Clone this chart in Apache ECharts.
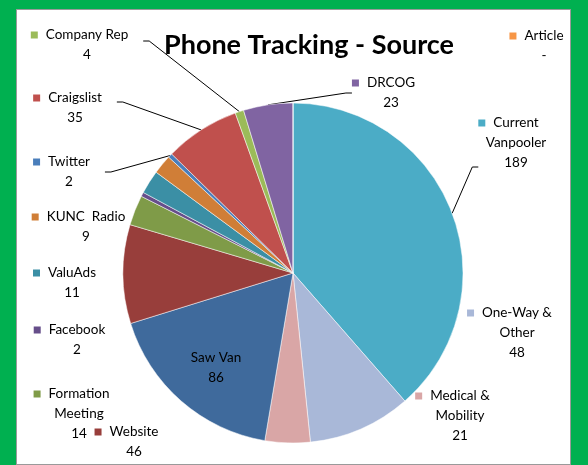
<!DOCTYPE html>
<html>
<head>
<meta charset="utf-8">
<style>
  html, body { margin: 0; padding: 0; }
  body { width: 588px; height: 465px; background: #00b050; position: relative; overflow: hidden; }
  .frame { position: absolute; left: 16px; top: 9px; width: 553px; height: 454px; background: #fff; border: 1px solid #9a9a9a; }
  #chart { position: absolute; left: 0; top: 0; width: 588px; height: 465px; }
</style>
<script src="https://cdn.jsdelivr.net/npm/echarts@6/dist/echarts.min.js"></script>
</head>
<body>
<div class="frame"></div>
<div id="chart"></div>
<script>
// slices, clockwise from 12 o'clock
var categories = ["Current Vanpooler", "One-Way & Other", "Medical & Mobility", "Saw Van", "Website",
  "Formation Meeting", "Facebook", "ValuAds", "KUNC  Radio", "Twitter", "Craigslist", "Company Rep", "DRCOG", "Article"];
var labelNames = ["Current\nVanpooler", "One-Way &\nOther", "Medical &\nMobility", "Saw Van", "Website",
  "Formation\nMeeting", "Facebook", "ValuAds", "KUNC  Radio", "Twitter", "Craigslist", "Company Rep", "DRCOG", "Article"];
var values = [189, 48, 21, 86, 46, 14, 2, 11, 9, 2, 35, 4, 23, 0];

var colors = ["#4bacc6", "#a9b8d8", "#d9a6a6", "#3f6a9c", "#983e3b", "#7f9b48", "#664e8a",
  "#3b8fa5", "#d07e37", "#4a7ebb", "#c0504d", "#9bbb59", "#8064a2", "#f79646"];
// label box centres (page px) and extra padding so the leader line meets the right row
var labelPos = [[516, 167], [517, 333], [460, 416], [216, 368], [134, 442], [79, 414], [77, 340],
  [72, 283], [86, 227], [69, 172], [75, 102], [87, 41], [391, 93], [544, 46]];
var labelPad = [[0, 0, 48, 0], 0, 0, 0, 0, 0, 0, 0, 0, 0, [12, 0, 0, 0], [8, 0, 0, 0], 0, 0];
var withKey = [true, true, true, false, true, true, true, true, true, true, true, true, true, true];
var withLine = [true, false, false, false, false, false, false, false, false, true, true, true, true, false];

var rich = { gap: { width: 8 }, pad: { width: 15 } };
colors.forEach(function (c, i) {
  rich["k" + i] = { width: 7, height: 7, backgroundColor: c };
});

var seriesData = categories.map(function (name, i) {
  return {
    name: name,
    value: values[i],
    itemStyle: { color: colors[i] },
    label: { padding: labelPad[i] },
    labelLine: { show: withLine[i] }
  };
});

var myChart = echarts.init(document.getElementById("chart"), null, { renderer: "canvas" });
var option = {
  animation: false,
  title: {
    text: "Phone Tracking - Source",
    left: 304,
    top: 27,
    textAlign: "center",
    textStyle: { fontFamily: "Lato", fontWeight: "bold", fontSize: 27, color: "#000" }
  },
  series: [
    {
      type: "pie",
      center: [293, 273],
      radius: 170,
      startAngle: 90,
      clockwise: true,
      avoidLabelOverlap: false,
      data: seriesData,
      itemStyle: { borderColor: "#fff", borderWidth: 0.5 },
      label: {
        show: true,
        color: "#000",
        fontFamily: "Lato",
        fontSize: 13.5,
        lineHeight: 20,
        align: "center",
        rich: rich,
        formatter: function (p) {
          var i = p.dataIndex;
          var lines = labelNames[i].split("\n");
          if (withKey[i]) {
            lines[0] = "{k" + i + "|}{gap|}" + lines[0] + "{pad|}";
          }
          lines.push(p.value === 0 ? "-" : String(p.value));
          return lines.join("\n");
        }
      },
      labelLine: {
        lineStyle: { color: "#000", width: 1 },
        length: 8,
        length2: 6
      },
      labelLayout: function (params) {
        var pos = labelPos[params.dataIndex];
        return { x: pos[0], y: pos[1], align: "center", verticalAlign: "middle" };
      }
    }
  ]
};
myChart.setOption(option);
</script>
</body>
</html>
